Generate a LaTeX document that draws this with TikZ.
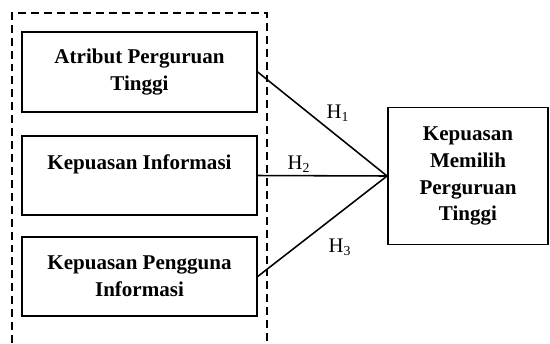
\documentclass[tikz,border=0pt]{standalone}
\usepackage{fontspec}
\setmainfont{Liberation Serif}
\usepackage{tikz}
\usetikzlibrary{positioning}

\tikzset{
  varbox/.style={draw, line width=1.1pt, minimum width=136pt, minimum height=46pt,
    inner sep=0pt, align=center, font=\bfseries\fontsize{12.2}{15.6}\selectfont},
  hlabel/.style={font=\fontsize{12}{14}\selectfont, inner sep=0pt},
  link/.style={line width=0.9pt},
}

\begin{document}
\begin{tikzpicture}[x=0.58pt, y=-0.58pt]
  \useasboundingbox (0,0) rectangle (550,343);
  % grouping of the independent variables
  \draw[line width=0.9pt, dash pattern=on 4.6pt off 2.9pt]
    (12,343) -- (12,13) -- (267,13) -- (267,343);

  \node (atr) [varbox] at (139.5,72) {Atribut Perguruan\\Tinggi};
  \node (kinf) [varbox] at (139.5,175.5) {Kepuasan Informasi\\~};
  \node (kpeng) [varbox] at (139.5,276.5) {Kepuasan Pengguna\\Informasi};

  \node (kmpt) [varbox, minimum width=92.8pt, minimum height=79.5pt]
    at (468,176) {Kepuasan\\Memilih\\Perguruan\\Tinggi};

  \draw[link] (atr.east) -- (kmpt.west);
  \draw[link] (kinf.east) -- (kmpt.west);
  \draw[link] (kpeng.east) -- (kmpt.west);

  \node (h1) [hlabel] at (338,113) {H\textsubscript{1}};
  \node (h2) [hlabel] at (299,164) {H\textsubscript{2}};
  \node (h3) [hlabel] at (340,247) {H\textsubscript{3}};
\end{tikzpicture}
\end{document}
